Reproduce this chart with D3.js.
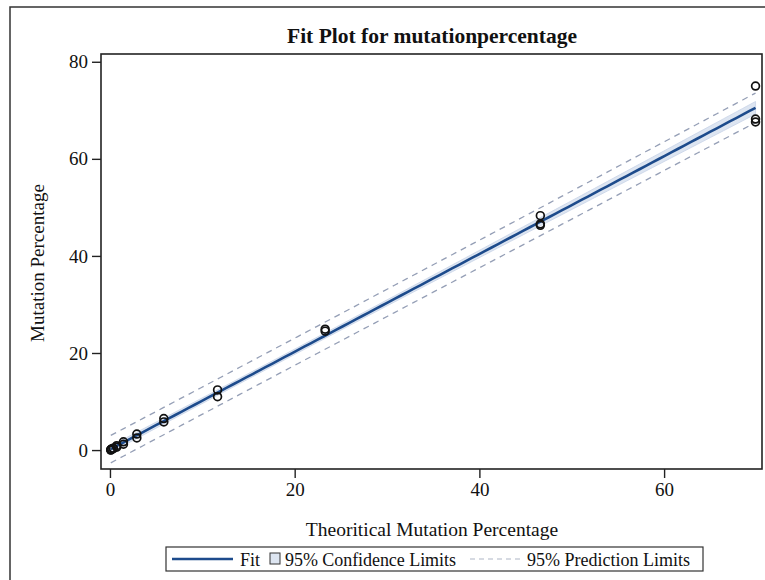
<!DOCTYPE html>
<meta charset="utf-8">
<script src="https://d3js.org/d3.v7.min.js"></script>
<style>
  body { margin: 0; background: #fff; }
  text { font-family: "Liberation Serif", "DejaVu Serif", serif; fill: #111; }
</style>
<div id="my_dataviz"></div>
<script>

// theoretical mutation percentage (x) and observed replicates (y)
var theoretical = [0.09, 0.18, 0.36, 0.73, 1.46, 2.91, 5.83, 11.65, 23.3, 46.6, 69.9]
var observed = [
  [0.1, 0.05, 0.0],
  [0.2, 0.15],
  [0.4, 0.3],
  [0.9, 0.6],
  [1.7, 1.2],
  [3.3, 2.5],
  [6.5, 5.8],
  [12.4, 11.0],
  [24.9, 24.5],
  [48.3, 46.6, 46.3],
  [75.0, 68.2, 67.6]
]
var xTicks = [0, 20, 40, 60]
var yTicks = [0, 20, 40, 60, 80]
var legendItems = ["Fit", "95% Confidence Limits", "95% Prediction Limits"]

var W = 765, H = 580
var plot = {left: 101, top: 54, right: 762, bottom: 469}

var svg = d3.select("#my_dataviz").append("svg")
  .attr("width", W).attr("height", H)

// outer frame (runs off the image at right and bottom)
svg.append("rect")
  .attr("x", 10).attr("y", 7)
  .attr("width", 800).attr("height", 620)
  .attr("fill", "none").attr("stroke", "#333").attr("stroke-width", 1.5)

var x = d3.scaleLinear().domain([-0.97, 70.6]).range([plot.left, plot.right])
var y = d3.scaleLinear().domain([-3.9, 81.6]).range([plot.bottom, plot.top])

// flatten points
var pts = []
theoretical.forEach(function(t, i) {
  observed[i].forEach(function(v) { pts.push({x: t, y: v}) })
})

// least squares fit with confidence / prediction limits
var n = pts.length
var mx = d3.mean(pts, d => d.x), my = d3.mean(pts, d => d.y)
var sxx = d3.sum(pts, d => (d.x - mx) * (d.x - mx))
var sxy = d3.sum(pts, d => (d.x - mx) * (d.y - my))
var b1 = sxy / sxx, b0 = my - b1 * mx
var sse = d3.sum(pts, d => Math.pow(d.y - (b0 + b1 * d.x), 2))
var s = Math.sqrt(sse / (n - 2))
var tval = 2.056 // t(0.975, 26)

var grid = d3.range(0, 101).map(i => 0.09 + (69.9 - 0.09) * i / 100)
var band = grid.map(function(g) {
  var f = b0 + b1 * g
  var h = (g - mx) * (g - mx) / sxx
  var cl = tval * s * Math.sqrt(1 / n + h)
  var pl = tval * s * Math.sqrt(1 + 1 / n + h)
  return {x: g, fit: f, lcl: f - cl, ucl: f + cl, lpl: f - pl, upl: f + pl}
})

var g = svg.append("g")

g.append("path")
  .datum(band)
  .attr("fill", "#dde5f1")
  .attr("stroke", "#c8d3e7")
  .attr("stroke-width", 0.8)
  .attr("d", d3.area().x(d => x(d.x)).y0(d => y(d.lcl)).y1(d => y(d.ucl)))

;["lpl", "upl"].forEach(function(k) {
  g.append("path")
    .datum(band)
    .attr("fill", "none")
    .attr("stroke", "#959fb6")
    .attr("stroke-width", 1.3)
    .attr("stroke-dasharray", "6,5")
    .attr("d", d3.line().x(d => x(d.x)).y(d => y(d[k])))
})

g.append("path")
  .datum(band)
  .attr("fill", "none")
  .attr("stroke", "#1d4b8c")
  .attr("stroke-width", 2.6)
  .attr("d", d3.line().x(d => x(d.x)).y(d => y(d.fit)))

g.selectAll("circle")
  .data(pts)
  .enter()
  .append("circle")
    .attr("cx", d => x(d.x))
    .attr("cy", d => y(d.y))
    .attr("r", 3.9)
    .attr("fill", "none")
    .attr("stroke", "#111")
    .attr("stroke-width", 1.7)

// plot frame
svg.append("rect")
  .attr("x", plot.left).attr("y", plot.top)
  .attr("width", plot.right - plot.left).attr("height", plot.bottom - plot.top)
  .attr("fill", "none").attr("stroke", "#222").attr("stroke-width", 1.6)

var xAxis = d3.axisBottom(x).tickValues(xTicks).tickSize(9).tickPadding(5)
var yAxis = d3.axisLeft(y).tickValues(yTicks).tickSize(9).tickPadding(4)

svg.append("g")
  .attr("transform", "translate(0," + plot.bottom + ")")
  .call(xAxis)
  .call(a => a.select(".domain").remove())
  .call(a => a.selectAll("line").attr("stroke", "#222").attr("stroke-width", 1.4))
  .call(a => a.selectAll("text").attr("font-size", 19).attr("font-family", "Liberation Serif").attr("fill", "#111"))

svg.append("g")
  .attr("transform", "translate(" + plot.left + ",0)")
  .call(yAxis)
  .call(a => a.select(".domain").remove())
  .call(a => a.selectAll("line").attr("stroke", "#222").attr("stroke-width", 1.4))
  .call(a => a.selectAll("text").attr("font-size", 19).attr("font-family", "Liberation Serif").attr("fill", "#111"))

// title and axis labels
svg.append("text")
  .attr("x", 432).attr("y", 43)
  .attr("text-anchor", "middle")
  .attr("font-size", 21.5).attr("font-weight", "bold")
  .text("Fit Plot for mutationpercentage")

svg.append("text")
  .attr("x", 432).attr("y", 536)
  .attr("text-anchor", "middle")
  .attr("font-size", 19.5)
  .text("Theoritical Mutation Percentage")

svg.append("text")
  .attr("transform", "translate(44,263)rotate(-90)")
  .attr("text-anchor", "middle")
  .attr("font-size", 19)
  .text("Mutation Percentage")

// legend
var leg = svg.append("g")
leg.append("rect")
  .attr("x", 166).attr("y", 547).attr("width", 537).attr("height", 24)
  .attr("fill", "#fff").attr("stroke", "#333").attr("stroke-width", 1.2)

leg.append("line")
  .attr("x1", 172).attr("x2", 233).attr("y1", 559).attr("y2", 559)
  .attr("stroke", "#1d4b8c").attr("stroke-width", 2.6)
leg.append("text").attr("x", 240).attr("y", 565.5).attr("font-size", 18).text(legendItems[0])

leg.append("rect")
  .attr("x", 270).attr("y", 553).attr("width", 10).attr("height", 11)
  .attr("fill", "#dde5f1").attr("stroke", "#333").attr("stroke-width", 1)
leg.append("text").attr("x", 285).attr("y", 565.5).attr("font-size", 18)
  .attr("textLength", 171).text(legendItems[1])

leg.append("line")
  .attr("x1", 470).attr("x2", 522).attr("y1", 559).attr("y2", 559)
  .attr("stroke", "#adb5c6").attr("stroke-width", 1.2).attr("stroke-dasharray", "5,4")
leg.append("text").attr("x", 527).attr("y", 565.5).attr("font-size", 18).text(legendItems[2])

</script>
